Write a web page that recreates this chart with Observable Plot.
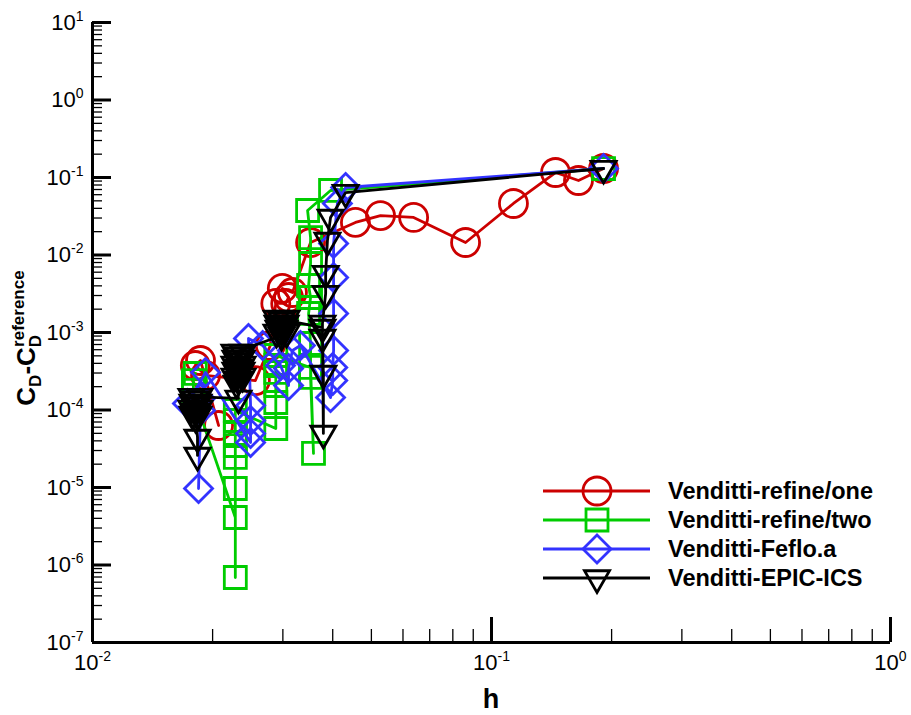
<!DOCTYPE html>
<html><head><meta charset="utf-8">
<script src="https://cdn.jsdelivr.net/npm/d3@7"></script>
<script src="https://cdn.jsdelivr.net/npm/@observablehq/plot@0.6"></script>
<style>body{margin:0;background:#fff;} #chart{width:911px;height:715px;}</style>
</head><body><div id="chart"></div>
<script>
// ---- data ----
const seriesNames = ["Venditti-refine/one","Venditti-refine/two","Venditti-Feflo.a","Venditti-EPIC-ICS"];
const seriesColors = ["#cc0000","#00cc00","#3333ff","#000000"];

const redH  = [0.1909,0.1652,0.1447,0.1135,0.0861,0.0638,0.0527,0.0456,0.0352,0.0317,0.0299,0.0310,0.0305,0.0288,0.0279,0.0256,0.0192,0.0181,0.01865,0.0207];
const redCd = [0.1306,0.0915,0.1160,0.0462,0.0145,0.0305,0.0323,0.0263,0.0145,0.00328,0.00370,0.00283,0.00237,0.00237,0.000680,0.000240,0.000279,0.000375,0.000435,0.0000631];

const greenH  = [0.1909,0.0395,0.0346,0.0352,0.0352,0.0348,0.0352,0.0348,0.0352,0.0352,0.0358,0.0352,0.0288,0.0288,0.0288,0.0288,0.0288,0.0288,0.0228,0.0228,0.0228,0.0228,0.0228,0.0228,0.0228,0.0228,0.0181,0.0179,0.0179,0.0181];
const greenCd = [0.1306,0.0680,0.0375,0.0168,0.00777,0.00404,0.00283,0.00176,0.000721,0.000263,0.0000275,0.000354,0.000505,0.000375,0.000305,0.000207,0.000125,0.0000577,0.0000985,0.0000732,0.0000498,0.0000348,0.0000244,0.00000971,0.00000069,0.0000041,0.000133,0.000179,0.000240,0.000296];

const blueH  = [0.1909,0.0431,0.0411,0.0402,0.0402,0.0402,0.0402,0.0400,0.0400,0.0395,0.0332,0.0317,0.0310,0.0310,0.0296,0.0267,0.0246,0.0249,0.0249,0.0249,0.0249,0.0192,0.0173,0.01865,0.01865,0.01844];
const blueCd = [0.1306,0.0743,0.0462,0.0141,0.00512,0.00176,0.000586,0.000354,0.000240,0.000145,0.000680,0.000586,0.000343,0.000207,0.000375,0.000680,0.000837,0.000114,0.0000732,0.0000498,0.0000381,0.000305,0.000121,0.000141,0.0000985,0.00000971];

const blackH  = [0.1909,0.0431,0.0395,0.0388,0.0384,0.0384,0.0377,0.0377,0.0379,0.0379,0.0377,
                 0.02892,0.03064,0.02977,0.02909,0.03047,0.02977,0.02926,0.03029,0.02977,0.02892,0.03064,0.02977,
                 0.02269,0.02377,0.02322,0.02282,0.02363,0.02322,0.02269,0.02377,0.02322,0.02282,0.02363,0.02322,0.02269,0.02377,0.02322,0.02296,0.02322,
                 0.01770,0.01854,0.01812,0.01781,0.01844,0.01812,0.01770,0.01854,0.01812,0.01781,0.01844,0.01812,0.01833,0.01833];
const blackCd = [0.1306,0.0640,0.0305,0.0154,0.00577,0.00318,0.00131,0.000862,0.000296,0.0000498,0.00116,
                 0.00152,0.00152,0.00143,0.00131,0.00131,0.00123,0.00113,0.00113,0.00106,0.00100,0.00100,0.000915,
                 0.000552,0.000552,0.000505,0.000462,0.000462,0.000423,0.000387,0.000387,0.000354,0.000324,0.000324,0.000296,0.000271,0.000271,0.000247,0.000220,0.000141,
                 0.000149,0.000149,0.000137,0.000125,0.000125,0.000114,0.000105,0.000105,0.0000956,0.0000875,0.0000875,0.0000800,0.0000442,0.0000259];

const xMajorTicks = [0.01, 0.1, 1];
const yMajorTicks = [1e-7, 1e-6, 1e-5, 1e-4, 1e-3, 1e-2, 1e-1, 1, 10];
const minorMultipliers = [2,3,4,5,6,7,8,9];

// ---- layout ----
const W = 911, H = 715, mL = 92, mR = 21, mT = 22, mB = 73;
const innerW = W - mL - mR, innerH = H - mT - mB;
const FONT = "'Liberation Sans', Arial, sans-serif";

const xMinor = xMajorTicks.slice(0,-1).flatMap(d => minorMultipliers.map(m => d*m));
const yMinor = yMajorTicks.slice(0,-1).flatMap(d => minorMultipliers.map(m => d*m));

const triangleDown = { draw(ctx, size) { const y = Math.sqrt(size/(3*Math.sqrt(3))); ctx.moveTo(0, 2*y); ctx.lineTo(Math.sqrt(3)*y, -y); ctx.lineTo(-Math.sqrt(3)*y, -y); ctx.closePath(); } };
const diamond = { draw(ctx, size) { const r = Math.sqrt(size)*0.627; ctx.moveTo(0,-r); ctx.lineTo(r,0); ctx.lineTo(0,r); ctx.lineTo(-r,0); ctx.closePath(); } };
const seriesSymbols = [d3.symbolCircle, d3.symbolSquare, diamond, triangleDown];
const seriesRadii = [14, 12.4, 12.6, 9.3];
const seriesData = [[redH, redCd],[greenH, greenCd],[blueH, blueCd],[blackH, blackCd]];

const fmt = d => "10^" + Math.round(Math.log10(d));

const marks = [
  Plot.tickY(yMinor, {y: d => d, insetRight: innerW - 10, strokeWidth: 1.3}),
  Plot.tickY(yMajorTicks, {y: d => d, insetRight: innerW - 19, strokeWidth: 3}),
  Plot.tickX(xMinor, {x: d => d, insetTop: innerH - 13, strokeWidth: 1.3}),
  Plot.tickX(xMajorTicks, {x: d => d, insetTop: innerH - 25, strokeWidth: 3}),
  Plot.ruleX([0.01], {strokeWidth: 3}),
  Plot.ruleY([1e-7], {strokeWidth: 3}),
  Plot.axisX({ticks: xMajorTicks, tickSize: 0, tickPadding: 12, tickFormat: fmt, label: null}),
  Plot.axisY({ticks: yMajorTicks, tickSize: 0, tickPadding: 9, tickFormat: fmt, label: null})
];
seriesData.forEach(([hs, cds], i) => {
  const data = hs.map((h, j) => ({h, cd: cds[j]}));
  marks.push(Plot.line(data, {x: "h", y: "cd", stroke: seriesColors[i], strokeWidth: 2.8}));
  marks.push(Plot.dot(data, {x: "h", y: "cd", symbol: seriesSymbols[i], r: seriesRadii[i], stroke: seriesColors[i], strokeWidth: 2.8, fill: "none"}));
});

const chart = Plot.plot({
  width: W, height: H, marginLeft: mL, marginRight: mR, marginTop: mT, marginBottom: mB,
  x: {type: "log", domain: [0.01, 1]},
  y: {type: "log", domain: [1e-7, 10]},
  style: {fontFamily: FONT, fontSize: "22px", color: "black", background: "white", overflow: "visible"},
  marks
});
document.getElementById("chart").appendChild(chart);

// superscript tick labels
const svg = d3.select(chart);
svg.selectAll('g[aria-label="x-axis tick label"] text, g[aria-label="y-axis tick label"] text').each(function() {
  const s = this.textContent;
  if (!s.includes("^")) return;
  const [b, e] = s.split("^");
  const t = d3.select(this);
  t.text(null);
  t.append("tspan").text(b);
  t.append("tspan").attr("font-size", "14px").attr("dy", "-0.62em").text(e);
});

// y-axis title
const yt = svg.append("text")
  .attr("transform", "translate(35,338) rotate(-90)")
  .attr("text-anchor", "middle")
  .attr("font-family", FONT)
  .attr("font-weight", "bold").attr("font-size", "26px").attr("fill", "black");
yt.append("tspan").text("C");
yt.append("tspan").attr("font-size", "17px").attr("dy", "6").text("D");
yt.append("tspan").attr("dy", "-6").text("-C");
yt.append("tspan").attr("font-size", "17px").attr("dy", "6").text("D");
yt.append("tspan").attr("font-size", "17px").attr("dx", "-12").attr("dy", "-17").text("reference");

// x-axis title
svg.append("text").attr("x", 491).attr("y", 708).attr("text-anchor", "middle")
  .attr("font-family", FONT)
  .attr("font-weight", "bold").attr("font-size", "27px").attr("fill", "black").text("h");

// legend
const lg = svg.append("g");
seriesNames.forEach((name, i) => {
  const y = 491 + i * 29;
  lg.append("line").attr("x1", 543).attr("x2", 650).attr("y1", y).attr("y2", y)
    .attr("stroke", seriesColors[i]).attr("stroke-width", 3);
  lg.append("path").attr("transform", `translate(597,${y})`)
    .attr("d", d3.symbol().type(seriesSymbols[i]).size(Math.PI * seriesRadii[i] ** 2)())
    .attr("fill", "none").attr("stroke", seriesColors[i]).attr("stroke-width", 2.8);
  lg.append("text").attr("x", 668).attr("y", y + 8).attr("text-anchor", "start")
    .attr("font-family", FONT)
    .attr("font-weight", "bold").attr("font-size", "23.5px").attr("fill", "black").text(name);
});
</script>
</body></html>
